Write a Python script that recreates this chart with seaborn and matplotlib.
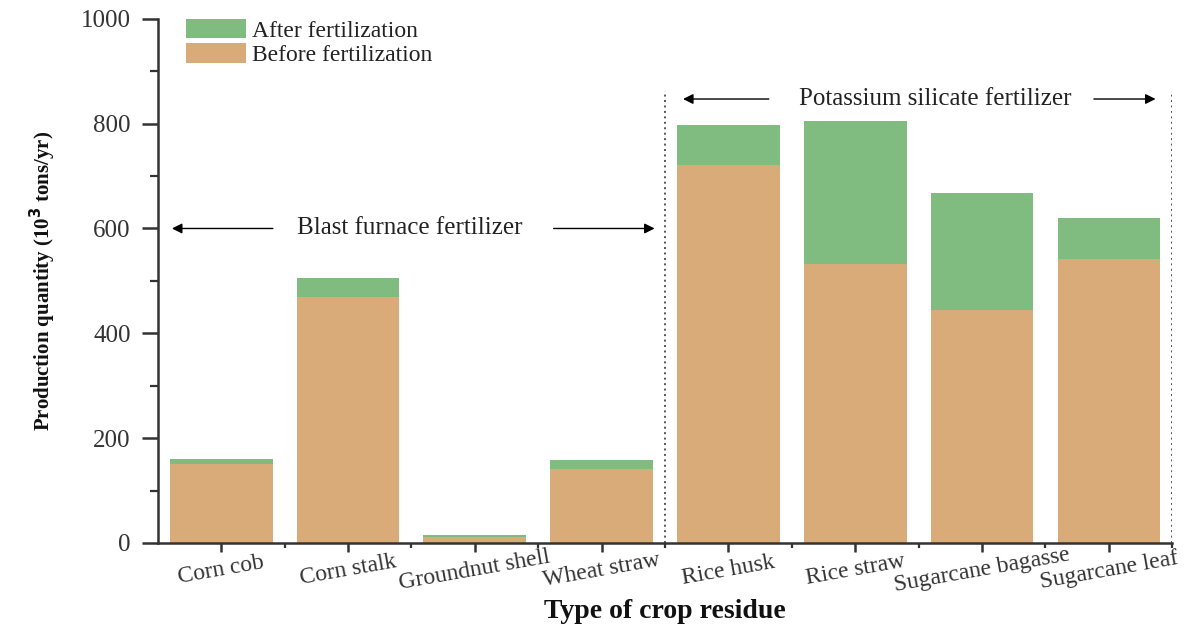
import numpy as np
import pandas as pd
import matplotlib
matplotlib.use("Agg")
import matplotlib.pyplot as plt
import seaborn as sns
from matplotlib.patches import Patch

categories = ["Corn cob", "Corn stalk", "Groundnut shell", "Wheat straw",
              "Rice husk", "Rice straw", "Sugarcane bagasse", "Sugarcane leaf"]
before = [151, 470, 12, 141, 721, 532, 445, 542]
after = [160, 506, 15, 158, 798, 805, 668, 620]

sns.set_theme(style="ticks")
plt.rcParams["font.family"] = ["Liberation Serif", "DejaVu Serif"]

green = "#80BB80"
tan = "#D9AB78"

df = pd.DataFrame({"crop": categories, "before": before, "after": after})

fig = plt.figure(figsize=(11.95, 6.27), dpi=100)
ax = fig.add_axes([0.132, 0.134, 0.849, 0.836])

sns.barplot(data=df, x="crop", y="after", color=green, width=0.81,
            saturation=1, ax=ax, linewidth=0)
sns.barplot(data=df, x="crop", y="before", color=tan, width=0.81,
            saturation=1, ax=ax, linewidth=0)

ax.set_xlim(-0.5, 7.5)
ax.set_ylim(0, 1000)
ax.set_yticks(np.arange(0, 1001, 200))
ax.set_yticks(np.arange(100, 1000, 200), minor=True)
ax.set_xticks(np.arange(0.5, 8, 1), minor=True)

sns.despine(ax=ax)
for s in ["left", "bottom"]:
    ax.spines[s].set_linewidth(1.8)
    ax.spines[s].set_color("#333333")

ax.tick_params(axis="y", which="major", direction="out", length=11.5, width=1.8,
               color="#333333", labelsize=18, labelcolor="#333333", pad=8)
ax.tick_params(axis="y", which="minor", direction="out", length=5.8, width=1.6,
               color="#333333")
ax.tick_params(axis="x", which="major", direction="out", length=6.5, width=1.8,
               color="#333333", pad=13)
ax.tick_params(axis="x", which="minor", direction="out", length=3.6, width=1.6,
               color="#333333")
ax.set_xticks(range(len(categories)))
ax.set_xticklabels(categories, rotation=10, ha="center", va="center",
                   fontsize=17, color="#333333", rotation_mode="anchor")

ax.set_xlabel("Type of crop residue", fontsize=20, fontweight="bold",
              color="#111111", va="center")
ax.xaxis.set_label_coords(0.5, -0.13)
ax.set_ylabel("Production quantity (10$^\\mathbf{3}$ tons/yr)", fontsize=15,
              fontweight="bold", color="#111111", va="center")
ax.yaxis.set_label_coords(-0.113, 0.5)

# separator lines
for xv in [3.5, 7.5]:
    ax.plot([xv, xv], [0, 862], linestyle=(0, (1, 1.8)), color="#555555", lw=1.4)

# annotations
arrowprops = dict(arrowstyle="-|>", color="black", lw=1, mutation_scale=15)
ax.annotate("", xy=(-0.41, 600), xytext=(0.43, 600), arrowprops=arrowprops)
ax.annotate("", xy=(3.44, 600), xytext=(2.6, 600), arrowprops=arrowprops)
ax.text(1.49, 600, "Blast furnace fertilizer", ha="center", va="center",
        fontsize=18, color="#222222")

ax.annotate("", xy=(3.62, 847), xytext=(4.34, 847), arrowprops=arrowprops)
ax.annotate("", xy=(7.39, 847), xytext=(6.86, 847), arrowprops=arrowprops)
ax.text(5.63, 847, "Potassium silicate fertilizer", ha="center", va="center",
        fontsize=18, color="#222222")

handles = [Patch(facecolor=green, edgecolor="none", label="After fertilization"),
           Patch(facecolor=tan, edgecolor="none", label="Before fertilization")]
ax.legend(handles=handles, loc="upper left", bbox_to_anchor=(0.028, 1.0),
          frameon=False, fontsize=17, handlelength=2.55, handleheight=0.9,
          labelspacing=0.05, borderpad=0, borderaxespad=0, handletextpad=0.25,
          labelcolor="#222222")

fig.savefig("out.png", dpi=100)
